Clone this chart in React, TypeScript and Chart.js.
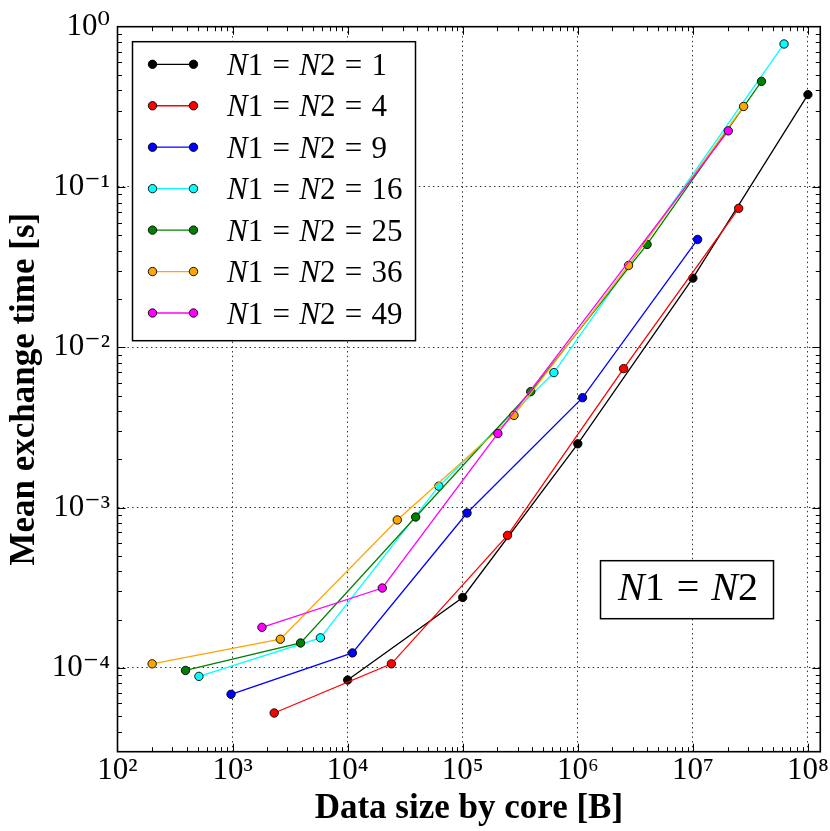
import React, { useEffect, useRef } from "react";
import { Chart, registerables } from "chart.js";

Chart.register(...registerables);

// ---------- data ----------
const seriesLabels = [
  "N1 = N2 = 1",
  "N1 = N2 = 4",
  "N1 = N2 = 9",
  "N1 = N2 = 16",
  "N1 = N2 = 25",
  "N1 = N2 = 36",
  "N1 = N2 = 49",
];
const seriesColors = ["#000000", "#ff0000", "#0000ff", "#00ffff", "#008000", "#ffa500", "#ff00ff"];

const xN1 = [1.0e4, 1.0e5, 1.0e6, 1.0e7, 1.0e8];
const yN1 = [8.4e-5, 2.75e-4, 2.5e-3, 2.7e-2, 0.377];
const xN4 = [2.3e3, 2.4e4, 2.45e5, 2.5e6, 2.5e7];
const yN4 = [5.23e-5, 1.06e-4, 6.71e-4, 7.36e-3, 7.36e-2];
const xN9 = [9.7e2, 1.1e4, 1.09e5, 1.1e6, 1.1e7];
const yN9 = [6.84e-5, 1.24e-4, 9.25e-4, 4.85e-3, 4.71e-2];
const xN16 = [5.1e2, 5.8e3, 6.2e4, 6.2e5, 6.2e7];
const yN16 = [8.85e-5, 1.54e-4, 1.36e-3, 6.95e-3, 0.78];
const xN25 = [3.9e2, 3.9e3, 3.9e4, 3.9e5, 4.0e6, 3.95e7];
const yN25 = [9.64e-5, 1.43e-4, 8.73e-4, 5.29e-3, 4.38e-2, 0.456];
const xN36 = [2.0e2, 2.6e3, 2.7e4, 2.79e5, 2.76e6, 2.76e7];
const yN36 = [1.06e-4, 1.51e-4, 8.37e-4, 3.76e-3, 3.24e-2, 0.318];
const xN49 = [1.8e3, 2.0e4, 2.02e5, 2.03e7];
const yN49 = [1.79e-4, 3.15e-4, 2.9e-3, 0.224];

const seriesX = [xN1, xN4, xN9, xN16, xN25, xN36, xN49];
const seriesY = [yN1, yN4, yN9, yN16, yN25, yN36, yN49];

const xMin = 1e2;
const xMax = 1.28e8;
const yMin = 3e-5;
const yMax = 1;

const xTickValues = [1e2, 1e3, 1e4, 1e5, 1e6, 1e7, 1e8];
const xTickLabels = ["10²", "10³", "10⁴", "10⁵", "10⁶", "10⁷", "10⁸"];
const yTickValues = [1e-4, 1e-3, 1e-2, 1e-1, 1];
const yTickLabels = ["10⁻⁴", "10⁻³", "10⁻²", "10⁻¹", "10⁰"];

const xTitle = "Data size by core [B]";
const yTitle = "Mean exchange time [s]";
const annotationText = "N1 = N2";

// ---------- helpers ----------
const SERIF = '"Liberation Serif", "DejaVu Serif", serif';

function labelFor(values: number[], labels: string[], v: number) {
  let best = 0;
  let bd = Infinity;
  values.forEach((t, i) => {
    const d = Math.abs(Math.log10(t) - Math.log10(v));
    if (d < bd) {
      bd = d;
      best = i;
    }
  });
  return labels[best];
}

function logTickList(min: number, max: number) {
  const out: { v: number; major: boolean }[] = [];
  const d0 = Math.floor(Math.log10(min));
  const d1 = Math.ceil(Math.log10(max));
  for (let d = d0; d <= d1; d++) {
    for (let m = 1; m <= 9; m++) {
      const v = m * Math.pow(10, d);
      if (v > min * (1 + 1e-9) && v < max * (1 - 1e-9)) out.push({ v, major: m === 1 });
    }
  }
  return out;
}

function drawMath(ctx: CanvasRenderingContext2D, text: string, x: number, baseline: number, size: number, align: "left" | "center") {
  const tokens = Array.from(text).filter((c) => c !== " ");
  const fontI = `italic ${size}px ${SERIF}`;
  const fontR = `${size}px ${SERIF}`;
  const gap = 0.3 * size;
  const isLetter = (c: string) => /[A-Za-z]/.test(c);
  const widths = tokens.map((c) => {
    ctx.font = isLetter(c) ? fontI : fontR;
    let w = ctx.measureText(c).width;
    if (c === "=") w += 2 * gap;
    return w;
  });
  const total = widths.reduce((a, b) => a + b, 0);
  let cx = align === "center" ? x - total / 2 : x;
  ctx.textAlign = "left";
  ctx.textBaseline = "alphabetic";
  ctx.fillStyle = "#000";
  tokens.forEach((c, i) => {
    ctx.font = isLetter(c) ? fontI : fontR;
    ctx.fillText(c, cx + (c === "=" ? gap : 0), baseline);
    cx += widths[i];
  });
}

const decorPlugin = {
  id: "decor",
  afterDraw(chart: any) {
    const { ctx, chartArea: a } = chart;
    const xs = chart.scales.x;
    const ys = chart.scales.y;
    ctx.save();
    // inward ticks on all four sides
    ctx.strokeStyle = "#000";
    ctx.lineWidth = 1;
    ctx.setLineDash([]);
    ctx.beginPath();
    for (const t of logTickList(xMin, xMax)) {
      const px = Math.round(xs.getPixelForValue(t.v)) + 0.5;
      const len = t.major ? 8 : 4.5;
      ctx.moveTo(px, a.bottom);
      ctx.lineTo(px, a.bottom - len);
      ctx.moveTo(px, a.top);
      ctx.lineTo(px, a.top + len);
    }
    for (const t of logTickList(yMin, yMax)) {
      const py = Math.round(ys.getPixelForValue(t.v)) + 0.5;
      const len = t.major ? 8 : 4.5;
      ctx.moveTo(a.left, py);
      ctx.lineTo(a.left + len, py);
      ctx.moveTo(a.right, py);
      ctx.lineTo(a.right - len, py);
    }
    ctx.stroke();
    // frame
    ctx.lineWidth = 1.6;
    ctx.strokeRect(a.left, a.top, a.right - a.left, a.bottom - a.top);

    // legend
    const lx = a.left + 15;
    const ly = a.top + 15;
    const lw = 283;
    const lh = 299;
    ctx.fillStyle = "#fff";
    ctx.fillRect(lx, ly, lw, lh);
    ctx.lineWidth = 1.5;
    ctx.strokeStyle = "#000";
    ctx.strokeRect(lx, ly, lw, lh);
    seriesLabels.forEach((label, i) => {
      const ry = ly + 22.6 + i * 41.45;
      const x1 = lx + 20;
      const x2 = lx + 61;
      ctx.strokeStyle = seriesColors[i];
      ctx.lineWidth = 1.3;
      ctx.beginPath();
      ctx.moveTo(x1, ry);
      ctx.lineTo(x2, ry);
      ctx.stroke();
      for (const px of [x1, x2]) {
        ctx.beginPath();
        ctx.arc(px, ry, 4.2, 0, Math.PI * 2);
        ctx.fillStyle = seriesColors[i];
        ctx.fill();
        ctx.lineWidth = 0.9;
        ctx.strokeStyle = "#000";
        ctx.stroke();
      }
      drawMath(ctx, label, lx + 94.5, ry + 10.5, 31, "left");
    });

    // annotation box
    const bx = a.left + 483;
    const by = a.top + 534;
    const bw = 173;
    const bh = 58;
    ctx.fillStyle = "#fff";
    ctx.fillRect(bx, by, bw, bh);
    ctx.strokeStyle = "#000";
    ctx.lineWidth = 1.5;
    ctx.strokeRect(bx, by, bw, bh);
    drawMath(ctx, annotationText, bx + bw / 2 + 1, by + 39.5, 40, "center");
    ctx.restore();
  },
};

export default function App() {
  const canvasRef = useRef<HTMLCanvasElement | null>(null);

  useEffect(() => {
    const canvas = canvasRef.current;
    if (!canvas) return;
    const datasets = seriesLabels.map((label, i) => ({
      label,
      data: seriesX[i].map((x, j) => ({ x, y: seriesY[i][j] })),
      borderColor: seriesColors[i],
      backgroundColor: seriesColors[i],
      pointBackgroundColor: seriesColors[i],
      pointBorderColor: "#000",
      pointBorderWidth: 0.9,
      pointRadius: 4.2,
      pointHoverRadius: 4.2,
      borderWidth: 1.3,
      tension: 0,
      fill: false,
      order: seriesLabels.length - i,
    }));

    const chart = new Chart(canvas, {
      type: "line",
      data: { datasets },
      options: {
        animation: false,
        responsive: false,
        devicePixelRatio: 1,
        events: [],
        layout: { padding: { top: 26.7, right: 9.3, bottom: 0, left: 0 } },
        plugins: {
          legend: { display: false },
          tooltip: { enabled: false },
        },
        scales: {
          x: {
            type: "logarithmic",
            min: xMin,
            max: xMax,
            afterBuildTicks: (scale: any) => {
              scale.ticks = xTickValues.map((v) => ({ value: v }));
            },
            afterFit: (scale: any) => {
              scale.height = 79.3;
            },
            ticks: {
              autoSkip: false,
              maxRotation: 0,
              minRotation: 0,
              padding: 1,
              color: "#000",
              font: { family: SERIF, size: 31 },
              callback: (v: any) => labelFor(xTickValues, xTickLabels, Number(v)),
            },
            grid: { color: "rgba(0,0,0,0.8)", lineWidth: 1, drawTicks: false },
            border: { display: false, dash: [1.5, 3.2] },
            title: {
              display: true,
              text: xTitle,
              color: "#000",
              font: { family: SERIF, size: 35, weight: "bold" },
              padding: { top: 0, bottom: 1 },
            },
          },
          y: {
            type: "logarithmic",
            min: yMin,
            max: yMax,
            afterBuildTicks: (scale: any) => {
              scale.ticks = yTickValues.map((v) => ({ value: v }));
            },
            afterFit: (scale: any) => {
              scale.width = 117.5;
            },
            ticks: {
              autoSkip: false,
              padding: 7.5,
              color: "#000",
              font: { family: SERIF, size: 31 },
              callback: (v: any) => labelFor(yTickValues, yTickLabels, Number(v)),
            },
            grid: { color: "rgba(0,0,0,0.8)", lineWidth: 1, drawTicks: false },
            border: { display: false, dash: [1.5, 3.2] },
            title: {
              display: true,
              text: yTitle,
              color: "#000",
              font: { family: SERIF, size: 35, weight: "bold" },
              padding: { top: 4, bottom: 0 },
            },
          },
        },
      },
      plugins: [decorPlugin],
    } as any);

    return () => chart.destroy();
  }, []);

  return (
    <div style={{ position: "absolute", left: 0, top: 0, width: 830, height: 831, background: "#fff" }}>
      <canvas ref={canvasRef} width={830} height={831} style={{ display: "block" }} />
    </div>
  );
}
